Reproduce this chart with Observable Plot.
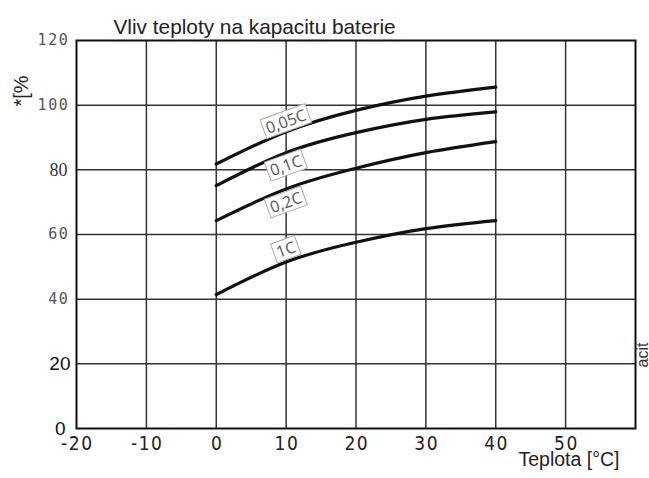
<!DOCTYPE html>
<html>
<head>
<meta charset="utf-8">
<script src="https://cdn.jsdelivr.net/npm/d3@7"></script>
<script src="https://cdn.jsdelivr.net/npm/@observablehq/plot@0.6"></script>
<style>
  html, body { margin: 0; padding: 0; background: #fff; }
  svg { display: block; }
</style>
</head>
<body>
<div id="chart"></div>
<script>
// ---- data ----
const temps = [0, 10, 20, 30, 40];
const cap005 = [81.8, 91.8, 98.4, 102.8, 105.6];
const cap01 = [75.1, 85.3, 91.5, 95.6, 97.9];
const cap02 = [64.3, 74.1, 80.5, 85.3, 88.7];
const cap1 = [41.4, 51.5, 57.6, 61.8, 64.3];
const seriesNames = ["0,05C", "0,1C", "0,2C", "1C"];
const labelX = [10, 10, 10, 10];
const labelY = [94.8, 81.2, 69.8, 55.2];
const xTicks = [-20, -10, 0, 10, 20, 30, 40, 50];
const gridX = [-10, 0, 10, 20, 30, 40, 50];
const gridY = [20, 40, 60, 80, 100];
const yTicksMono = [120, 100, 60, 40];
const yTicksSerif = [80];
const yTicksSans = [20];
const yTicksZero = [0];
const titleText = "Vliv teploty na kapacitu baterie";
const xLabel = "Teplota [°C]";
const yLabel = "*[%";
const sideText = "acit";

const seriesValues = [cap005, cap01, cap02, cap1];
const lineData = seriesNames.flatMap((name, i) =>
  temps.map((t, j) => ({series: name, t, v: seriesValues[i][j]})));
const labelData = seriesNames.map((name, i) => ({name, x: labelX[i], y: labelY[i]}));

const plot = Plot.plot({
  width: 649,
  height: 478,
  marginLeft: 76,
  marginRight: 14,
  marginTop: 40,
  marginBottom: 50,
  x: {domain: [-20, 60]},
  y: {domain: [0, 120]},
  style: {background: "#fff", overflow: "visible"},
  marks: [
    Plot.ruleX(gridX, {stroke: "#333", strokeWidth: 1.5}),
    Plot.ruleY(gridY, {stroke: "#333", strokeWidth: 1.5}),
    Plot.frame({stroke: "#111", strokeWidth: 2}),
    Plot.line(lineData, {x: "t", y: "v", z: "series", curve: "natural", stroke: "#111", strokeWidth: 3.2}),
    Plot.text(labelData, {x: "x", y: "y", text: "name", rotate: -20,
      fontFamily: "Open Sans", fontSize: 16, fill: "#555"}),
    Plot.axisX({ticks: xTicks, tickSize: 0, tickPadding: 8, label: null,
      tickFormat: d => String(d).replace("\u2212", "-"),
      fontFamily: "DejaVu Sans Condensed", fontSize: 19, fill: "#222"}),
    Plot.axisY({ticks: yTicksMono, tickSize: 0, tickPadding: 7, label: null,
      fontFamily: "DejaVu Sans Mono", fontSize: 15, fill: "#555"}),
    Plot.axisY({ticks: yTicksSerif, tickSize: 0, tickPadding: 9, label: null,
      fontFamily: "Liberation Serif", fontSize: 18, fill: "#333"}),
    Plot.axisY({ticks: yTicksSans, tickSize: 0, tickPadding: 6, label: null,
      fontFamily: "Liberation Sans", fontSize: 19, fill: "#111"}),
    Plot.axisY({ticks: yTicksZero, tickSize: 0, tickPadding: 11, label: null,
      fontFamily: "Liberation Sans", fontSize: 19, fill: "#111"}),
    Plot.text([titleText], {frameAnchor: "top-left", dx: 37, dy: -21, textAnchor: "start",
      fontFamily: "Liberation Sans", fontSize: 20.8, fill: "#222"}),
    Plot.text([yLabel], {frameAnchor: "top-left", dx: -63, dy: 66, rotate: -90,
      fontFamily: "Liberation Sans", fontSize: 20, fill: "#222"}),
    Plot.text([xLabel], {frameAnchor: "bottom-left", dx: 442, dy: 37,
      fontFamily: "Liberation Sans", fontSize: 19.5, fill: "#222"}),
    Plot.text([sideText], {frameAnchor: "bottom-right", dx: 12, dy: -86, rotate: -90,
      fontFamily: "Liberation Sans", fontSize: 16, fill: "#333"})
  ]
});

document.getElementById("chart").appendChild(plot);

const svg = d3.select(plot);

// letter spacing on tick labels
svg.selectAll('g[aria-label="x-axis tick label"] text').attr("letter-spacing", "1.5px").attr("dx", "0.8px");
svg.selectAll('g[aria-label="y-axis tick label"] text').each(function() {
  const t = +this.textContent.replace("\u2212", "-");
  if (yTicksMono.includes(t)) d3.select(this).attr("letter-spacing", "1.6px");
});

// boxes behind rotated curve labels
svg.selectAll("text").filter(function() {
  return seriesNames.includes(this.textContent) && this.closest('g[aria-label="text"]');
}).each(function() {
  const bb = this.getBBox();
  const rect = document.createElementNS("http://www.w3.org/2000/svg", "rect");
  rect.setAttribute("x", bb.x - 3);
  rect.setAttribute("y", bb.y + 1);
  rect.setAttribute("width", bb.width + 6);
  rect.setAttribute("height", bb.height - 2);
  rect.setAttribute("fill", "#fff");
  rect.setAttribute("stroke", "#aaa");
  rect.setAttribute("stroke-width", "1");
  const tr = this.getAttribute("transform");
  if (tr) rect.setAttribute("transform", tr);
  this.parentNode.insertBefore(rect, this);
});
</script>
</body>
</html>
